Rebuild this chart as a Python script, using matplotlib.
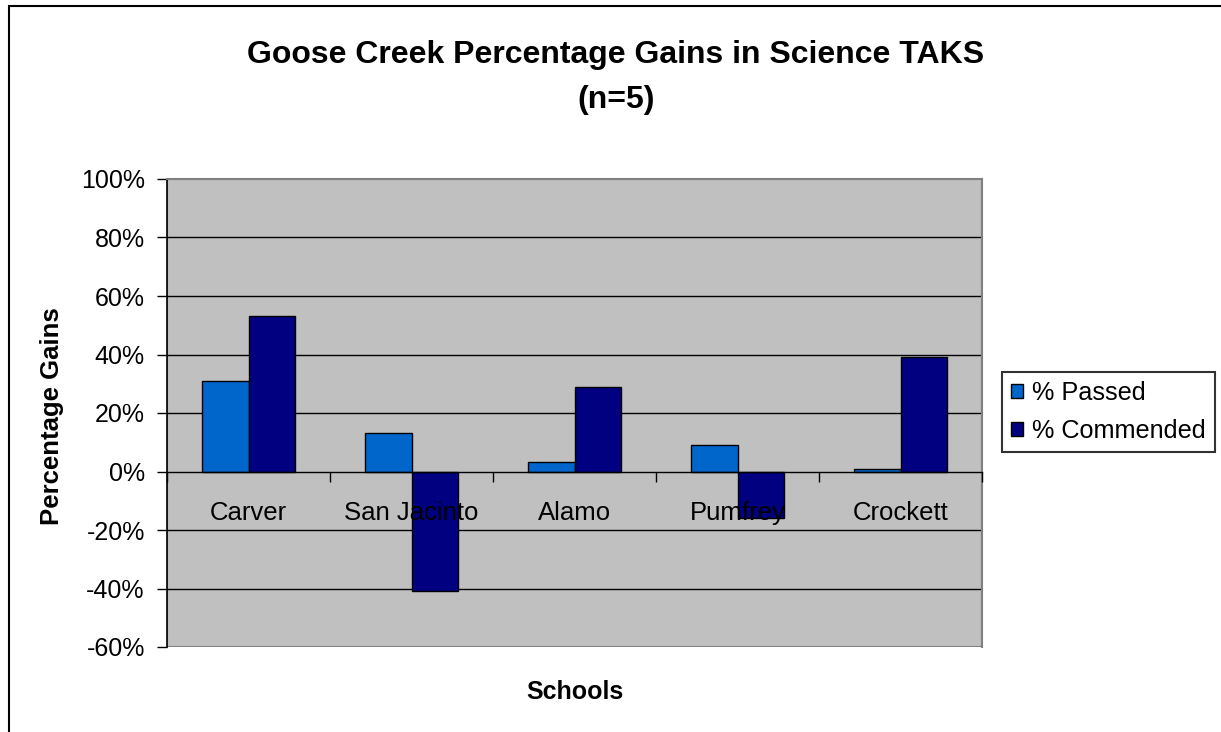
import numpy as np
from matplotlib import pyplot as plt
from matplotlib.patches import Rectangle
from matplotlib.ticker import FuncFormatter, FixedLocator

schools = ['Carver', 'San Jacinto', 'Alamo', 'Pumfrey', 'Crockett']
passed = [31, 13, 3.4, 8.9, 0.7]
commended = [53, -41, 28.8, -15.8, 39.3]
series_names = ['% Passed', '% Commended']
y_ticks = [-60, -40, -20, 0, 20, 40, 60, 80, 100]

plt.rcParams['font.family'] = ['Liberation Sans', 'DejaVu Sans']

W, H = 1221, 732
fig = plt.figure(figsize=(W / 100, H / 100), dpi=100)
fig.patch.set_facecolor('white')

# outer chart border (bottom/right run off the picture)
fig.add_artist(Rectangle((8.5 / W, -0.05), 1.2, (H - 6) / H + 0.05, transform=fig.transFigure,
                         fill=False, edgecolor='black', linewidth=1.5, clip_on=False))

ax = fig.add_axes([167 / W, 1 - 647 / H, (982 - 167) / W, (647 - 179) / H])
ax.set_facecolor('#C0C0C0')

x = np.arange(len(schools))
bw = 1 / 3.5
ax.bar(x - bw / 2, passed, bw, color='#0066CC', edgecolor='black', linewidth=1.0,
       label=series_names[0], zorder=2)
ax.bar(x + bw / 2, commended, bw, color='#000080', edgecolor='black', linewidth=1.0,
       label=series_names[1], zorder=2)

ax.set_xlim(-0.5, len(schools) - 0.5)
ax.set_ylim(-60, 100)
ax.set_yticks(y_ticks)
ax.yaxis.set_major_formatter(FuncFormatter(lambda v, p: f'{v:.0f}%'))
for v in y_ticks[1:-1]:
    if v != 0:
        ax.axhline(v, color='black', linewidth=1.0, zorder=1)

# category axis sits on the zero line, labels drawn over the bars
ax.spines['bottom'].set_position(('data', 0))
ax.spines['bottom'].set_linewidth(1.0)
ax.xaxis.set_zorder(2.5)
ax.xaxis.set_major_locator(FixedLocator(np.arange(len(schools) + 1) - 0.5))
ax.xaxis.set_major_formatter(FuncFormatter(lambda v, p: ''))
ax.xaxis.set_minor_locator(FixedLocator(x))
ax.set_xticklabels(schools, minor=True)
ax.tick_params(axis='x', which='major', direction='out', length=7, width=1.0)
ax.tick_params(axis='x', which='minor', length=0, pad=21, labelsize=18.5)
ax.tick_params(axis='y', direction='out', length=7, width=1.0, pad=9, labelsize=18)

for s in ['top', 'right']:
    ax.spines[s].set_color('#808080')
    ax.spines[s].set_linewidth(1.5)
ax.spines['left'].set_linewidth(1.2)
ax.add_patch(Rectangle((0, 0), 1, 1, transform=ax.transAxes, fill=False,
                       edgecolor='#808080', linewidth=1.5, zorder=0.5))

fig.text(616 / W, 1 - 55 / H, 'Goose Creek Percentage Gains in Science TAKS',
         ha='center', va='center', fontsize=23, fontweight='bold')
fig.text(616 / W, 1 - 100 / H, '(n=5)', ha='center', va='center', fontsize=23, fontweight='bold')
fig.text(575 / W, 1 - 692 / H, 'Schools', ha='center', va='center', fontsize=18, fontweight='bold')
fig.text(52 / W, 1 - 416 / H, 'Percentage Gains', ha='center', va='center', rotation=90,
         fontsize=18.5, fontweight='bold')

leg = fig.legend(loc='center left', bbox_to_anchor=(1002 / W, 1 - 412 / H), fontsize=18.2,
                 frameon=True, fancybox=False, shadow=False, handlelength=0.5, handleheight=0.5,
                 handletextpad=0.35, borderpad=0.35, labelspacing=0.55, borderaxespad=0)
leg.get_frame().set_edgecolor('black')
leg.get_frame().set_linewidth(1.5)

fig.savefig('out.png', dpi=100)
